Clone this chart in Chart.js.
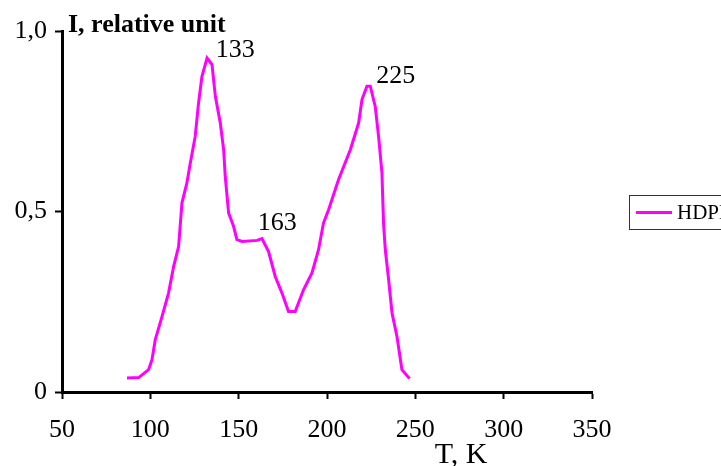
<!DOCTYPE html>
<html>
<head>
<meta charset="utf-8">
<script src="https://cdn.jsdelivr.net/npm/chart.js@4/dist/chart.umd.min.js"></script>
<style>
  html, body { margin: 0; padding: 0; background: #fff; }
  #wrap { width: 721px; height: 466px; }
</style>
</head>
<body>
<div id="wrap"><canvas id="myChart" width="721" height="466"></canvas></div>
<script>
// Temperature (K) and relative intensity
const temps = [86.8, 93.4, 99.0, 100.9, 102.8, 106.6, 110.3, 113.2, 116.0, 117.9, 120.7, 122.6,
  125.4, 127.3, 129.2, 132.1, 134.9, 136.8, 139.6, 141.5, 142.4, 144.3, 147.1, 149.0, 151.9,
  160.4, 163.2, 166.9, 170.7, 174.5, 178.2, 182.0, 186.7, 191.5, 195.2, 198.0, 200.9, 206.5,
  213.2, 217.9, 219.8, 222.6, 224.5, 227.3, 229.2, 231.1, 232.0, 233.0, 234.8, 236.8, 239.6,
  242.4, 246.7];
const intensity = [0.039, 0.040, 0.062, 0.089, 0.145, 0.209, 0.274, 0.348, 0.403, 0.524, 0.579, 0.634,
  0.708, 0.801, 0.874, 0.925, 0.907, 0.819, 0.745, 0.671, 0.597, 0.496, 0.459, 0.422, 0.417,
  0.420, 0.425, 0.389, 0.320, 0.274, 0.223, 0.223, 0.283, 0.330, 0.394, 0.468, 0.505, 0.588,
  0.671, 0.745, 0.810, 0.847, 0.847, 0.791, 0.708, 0.607, 0.468, 0.394, 0.315, 0.219, 0.154,
  0.062, 0.037];

// peak labels (temperature of the maximum)
const peakTemps = [133, 163, 225];
const peakValues = [0.926, 0.425, 0.847];

const seriesName = 'HDPE';
const xTitle = 'T, K';
const yTitle = 'I, relative unit';

const SERIF = '"Liberation Serif", "DejaVu Serif", serif';
const MAGENTA = '#ff00ff';

const points = temps.map((t, i) => ({ x: t, y: intensity[i] }));

// draws axis captions, the peak numbers and the legend box
const extras = {
  id: 'extras',
  afterDraw(chart) {
    const ctx = chart.ctx;
    const xs = chart.scales.x, ys = chart.scales.y;
    ctx.save();
    ctx.fillStyle = '#000';
    ctx.textBaseline = 'alphabetic';
    ctx.textAlign = 'left';

    ctx.font = 'bold 26px ' + SERIF;
    ctx.fillText(yTitle, xs.left + 6, ys.top + 1);

    ctx.font = '30px ' + SERIF;
    ctx.fillText(xTitle, xs.getPixelForValue(261), 463);

    // offsets of the peak numbers relative to their peak
    const offs = [[7, -1], [-4, -9], [5, -3]];
    ctx.font = '26px ' + SERIF;
    peakTemps.forEach((t, i) => {
      const px = xs.getPixelForValue(t);
      const py = ys.getPixelForValue(peakValues[i]);
      ctx.fillText(String(t), px + offs[i][0], py + offs[i][1]);
    });

    // legend
    ctx.strokeStyle = '#333';
    ctx.lineWidth = 1;
    ctx.strokeRect(629.5, 195.5, 100, 34);
    ctx.strokeStyle = MAGENTA;
    ctx.lineWidth = 3;
    ctx.beginPath();
    ctx.moveTo(636, 212.5);
    ctx.lineTo(672, 212.5);
    ctx.stroke();
    ctx.font = '21px ' + SERIF;
    ctx.textBaseline = 'middle';
    ctx.fillText(seriesName, 677, 213);
    ctx.restore();
  }
};

new Chart(document.getElementById('myChart'), {
  type: 'line',
  data: {
    datasets: [{
      label: seriesName,
      data: points,
      borderColor: MAGENTA,
      borderWidth: 3,
      pointRadius: 0,
      tension: 0,
      fill: false
    }]
  },
  options: {
    responsive: false,
    animation: false,
    layout: { padding: { left: 0, right: 129, top: 31, bottom: 0 } },
    plugins: {
      legend: { display: false },
      tooltip: { enabled: false }
    },
    scales: {
      x: {
        type: 'linear',
        min: 50,
        max: 350,
        afterFit: s => { s.height = 74; },
        ticks: {
          stepSize: 50,
          color: '#000',
          font: { family: SERIF, size: 26 },
          padding: 16,
          maxRotation: 0
        },
        grid: { drawOnChartArea: false, color: '#000', tickLength: 7, tickWidth: 2 },
        border: { color: '#000', width: 3 }
      },
      y: {
        min: 0,
        max: 1,
        afterFit: s => { s.width = 62; },
        ticks: {
          stepSize: 0.5,
          color: '#000',
          font: { family: SERIF, size: 26 },
          padding: 8,
          callback: v => v === 0 ? '0' : v.toFixed(1).replace('.', ',')
        },
        grid: { drawOnChartArea: false, color: '#000', tickLength: 7, tickWidth: 2 },
        border: { color: '#000', width: 3 }
      }
    }
  },
  plugins: [extras]
});
</script>
</body>
</html>
